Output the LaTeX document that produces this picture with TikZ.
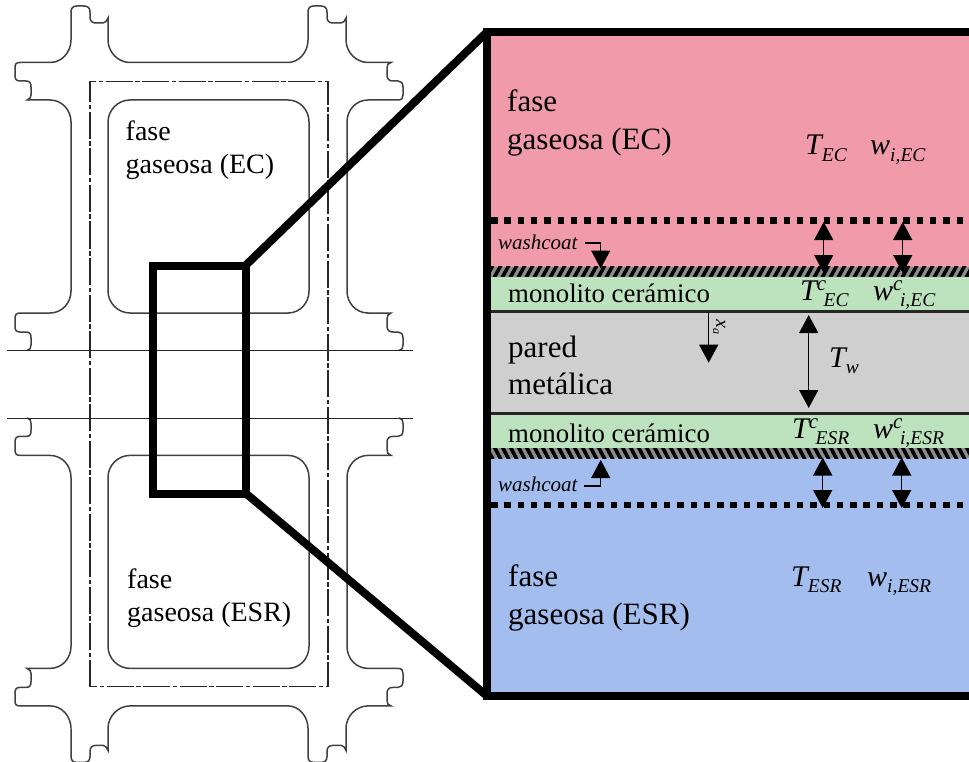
\documentclass[tikz,border=0pt]{standalone}
\usepackage{fontspec}
\setmainfont{Liberation Serif}
\usetikzlibrary{arrows.meta}
\definecolor{pinkband}{RGB}{241,155,170}
\definecolor{greenband}{RGB}{189,226,190}
\definecolor{greyband}{RGB}{207,207,207}
\definecolor{blueband}{RGB}{163,190,238}
\definecolor{hatchbase}{RGB}{140,140,140}
\newcommand{\fs}[1]{\fontsize{#1}{#1}\selectfont}
\newcommand{\qty}[3]{{\fs{30}\itshape #1}\raisebox{10pt}{\fs{21}\itshape #2}\raisebox{-6.5pt}{\fs{19.5}\itshape #3}}
\newcommand{\halfshape}{%
  \draw[outline] (71,40) -- (71,12) .. controls (71,8) and (73,6) .. (77,6) -- (84,6)
    .. controls (88,6) and (90,8) .. (90,12) -- (90,17) .. controls (90,21) and (92,23) .. (96,23)
    -- (103,23) .. controls (105,23) and (107,21) .. (108,18) -- (108,40)
    .. controls (108,52) and (118,62.5) .. (130,62.5) -- (288,62.5)
    .. controls (299,62.5) and (308,52) .. (308,40) -- (308,12)
    .. controls (308,8) and (310,6) .. (314,6) -- (321,6)
    .. controls (325,6) and (327,8) .. (327,12) -- (327,17)
    .. controls (327,21) and (329,23) .. (333,23) -- (341,23)
    .. controls (343,23) and (345,21) .. (346,18) -- (346,40)
    .. controls (346,52) and (356,62.5) .. (368,62.5) -- (391,62.5)
    .. controls (388,63) and (387,65) .. (387,68) -- (387,75)
    .. controls (387,79) and (389,81) .. (393,81) -- (398,81)
    .. controls (401,81) and (403,83) .. (403,87) -- (403,95)
    .. controls (403,98) and (402,100) .. (398,100) -- (368,100)
    .. controls (356,100) and (347,110) .. (347,122) -- (347,291)
    .. controls (347,303) and (356,313) .. (368,313) -- (391,313)
    .. controls (388,314) and (387,316) .. (387,319) -- (387,326)
    .. controls (387,330) and (389,332) .. (393,332) -- (398,332)
    .. controls (401,332) and (403,334) .. (403,338) -- (403,345)
    .. controls (403,348) and (402,350) .. (399,350.5);
  \draw[outline] (27,350.5) .. controls (30,350) and (31,348) .. (31,345) -- (31,338)
    .. controls (31,334) and (30,332) .. (26,332) -- (20,332)
    .. controls (16,332) and (15,330) .. (15,326) -- (15,319)
    .. controls (15,315) and (16,313) .. (20,313) -- (50,313)
    .. controls (62,313) and (71,303) .. (71,291) -- (71,122)
    .. controls (71,110) and (62,100) .. (50,100) -- (27,100)
    .. controls (30,99) and (31,97) .. (31,95) -- (31,87)
    .. controls (31,83) and (30,81) .. (26,81) -- (20,81)
    .. controls (16,81) and (15,79) .. (15,75) -- (15,68)
    .. controls (15,64) and (16,62.5) .. (20,62.5) -- (50,62.5)
    .. controls (62,62.5) and (71,52) .. (71,40);
  \draw[outline] (108,122) .. controls (108,110) and (118,100) .. (130,100) -- (288,100)
    .. controls (300,100) and (309,110) .. (309,122) -- (309,291)
    .. controls (309,303) and (300,313) .. (288,313) -- (130,313)
    .. controls (118,313) and (108,303) .. (108,291) -- cycle;
}
\tikzset{
  x=1pt,y=-1pt,
  outline/.style={line width=1.5pt,draw=black!75},
  centre/.style={line width=1.3pt,draw=black!85,dash pattern=on 27pt off 2.5pt on 4.5pt off 2.5pt},
  sheet/.style={line width=1.3pt,draw=black!85},
  frame/.style={line width=8pt,draw=black,line join=miter},
  porous/.style={line width=6.5pt,draw=black,dash pattern=on 6.5pt off 6.8pt},
  seam/.style={line width=3pt,draw=black!85},
  dbl/.style={line width=1.4pt,{Triangle[length=18pt,width=19pt]}-{Triangle[length=18pt,width=19pt]}},
  sgl/.style={line width=1.4pt,-{Triangle[length=18pt,width=19pt]}},
  lead/.style={line width=1.1pt,-{Triangle[length=18pt,width=19pt]}},
  big/.style={anchor=base west,inner sep=0pt,font=\fs{31}},
  mid/.style={anchor=base west,inner sep=0pt,font=\fs{28}},
  mono/.style={anchor=base west,inner sep=0pt,font=\fs{26.8}},
  wash/.style={anchor=base west,inner sep=0pt,font=\fs{21}\itshape},
  sym/.style={anchor=base west,inner sep=0pt},
  stripe/.style={line width=3.6pt,draw=black},
}
\begin{document}
\begin{tikzpicture}
\clip (0,0) rectangle (969,762);
\fill[white] (0,0) rectangle (969,762);
% left drawing
\halfshape
\begin{scope}[shift={(0,768.4)},yscale=-1]
\halfshape
\end{scope}
\draw[sheet] (7,350.5) -- (413,350.5);
\draw[sheet] (7,418.3) -- (413,418.3);
\draw[centre] (90,686.5) -- (90,81.5) -- (328,81.5) -- (328,686.5) -- cycle;
\node[mid] (lec1) at (125.5,141) {fase};
\node[mid] (lec2) at (125.5,173.5) {gaseosa (EC)};
\node[mid] (les1) at (127,588) {fase};
\node[mid] (les2) at (127,621) {gaseosa (ESR)};
% bands
\fill[pinkband] (487,32) rectangle (969,268);
\fill[greenband] (487,276) rectangle (969,311);
\fill[greyband] (487,311) rectangle (969,414);
\fill[greenband] (487,414) rectangle (969,449);
\fill[blueband] (487,457) rectangle (969,696);
% washcoat hatching
\begin{scope}
\clip (487,266.5) rectangle (969,276.5);
\fill[hatchbase] (487,266.5) rectangle (969,276.5);
\foreach \x in {0,...,61}{\draw[stripe] ({486+8*\x},278) -- ({493+8*\x},265);}
\end{scope}
\begin{scope}
\clip (487,448) rectangle (969,458);
\fill[hatchbase] (487,448) rectangle (969,458);
\foreach \x in {0,...,61}{\draw[stripe] ({486+8*\x},446.5) -- ({493+8*\x},459.5);}
\end{scope}
\draw[seam] (487,311) -- (969,311);
\draw[seam] (487,413.5) -- (969,413.5);
\draw[porous] (491,220.7) -- (969,220.7);
\draw[porous] (491,505) -- (969,505);
% arrows
\coordinate (a1t) at (823.7,222); \coordinate (a1b) at (823.7,273);
\coordinate (a2t) at (902.7,222); \coordinate (a2b) at (902.7,273);
\coordinate (a3t) at (822.7,457.5); \coordinate (a3b) at (822.7,508);
\coordinate (a4t) at (901.7,457.5); \coordinate (a4b) at (901.7,508);
\coordinate (a5t) at (808.7,315); \coordinate (a5b) at (808.7,408);
\coordinate (xt) at (708.7,312); \coordinate (xb) at (708.7,362.7);
\coordinate (w1a) at (585,243); \coordinate (w1c) at (600.7,243); \coordinate (w1b) at (600.7,268.5);
\coordinate (w2a) at (584,486); \coordinate (w2c) at (600.7,486); \coordinate (w2b) at (600.7,460);
\draw[dbl] (a1t) -- (a1b);
\draw[dbl] (a2t) -- (a2b);
\draw[dbl] (a3t) -- (a3b);
\draw[dbl] (a4t) -- (a4b);
\draw[dbl] (a5t) -- (a5b);
\draw[sgl] (xt) -- (xb);
\draw[lead] (w1a) -- (w1c) -- (w1b);
\draw[lead] (w2a) -- (w2c) -- (w2b);
% texts
\node[big] (rec1) at (507,112) {fase};
\node[big] (rec2) at (507,150) {gaseosa (EC)};
\node[big] (res1) at (508,586) {fase};
\node[big] (res2) at (508,624.5) {gaseosa (ESR)};
\node[big] (pw1) at (508,357) {pared};
\node[big] (pw2) at (508,394.5) {metálica};
\node[mono] (mc1) at (508,302) {monolito cerámico};
\node[mono] (mc2) at (508,442) {monolito cerámico};
\node[wash] (wc1) at (498,249.5) {washcoat};
\node[wash] (wc2) at (498,491) {washcoat};
\node[sym] (tec) at (805,155) {\qty{T}{}{EC}};
\node[sym] (wec) at (870,155) {\qty{w}{}{i,EC}};
\node[sym] (tcec) at (800,300) {\qty{T}{c\kern-2.5pt}{EC}};
\node[sym] (wcec) at (873,300) {\qty{w}{c\kern-2.5pt}{i,EC}};
\node[sym] (tcesr) at (792,438) {\qty{T}{c\kern-2.5pt}{ESR}};
\node[sym] (wcesr) at (873,438) {\qty{w}{c\kern-2.5pt}{i,ESR}};
\node[sym] (tesr) at (791,586) {\qty{T}{}{ESR}};
\node[sym] (wesr) at (867,586) {\qty{w}{}{i,ESR}};
\node[sym] (tw) at (829,367) {\qty{T}{}{w}};
\node[sym,rotate=-90] (xa) at (716,319) {{\fs{20}\itshape x}\raisebox{-3pt}{\fs{12}\itshape a}};
% thick frames
\draw[frame] (246,265) -- (487,32);
\draw[frame] (246,493.5) -- (487,696);
\draw[frame] (152.7,265.5) rectangle (246,493.5);
\draw[frame] (985,32) -- (487,32) -- (487,696) -- (985,696);
\end{tikzpicture}
\end{document}
